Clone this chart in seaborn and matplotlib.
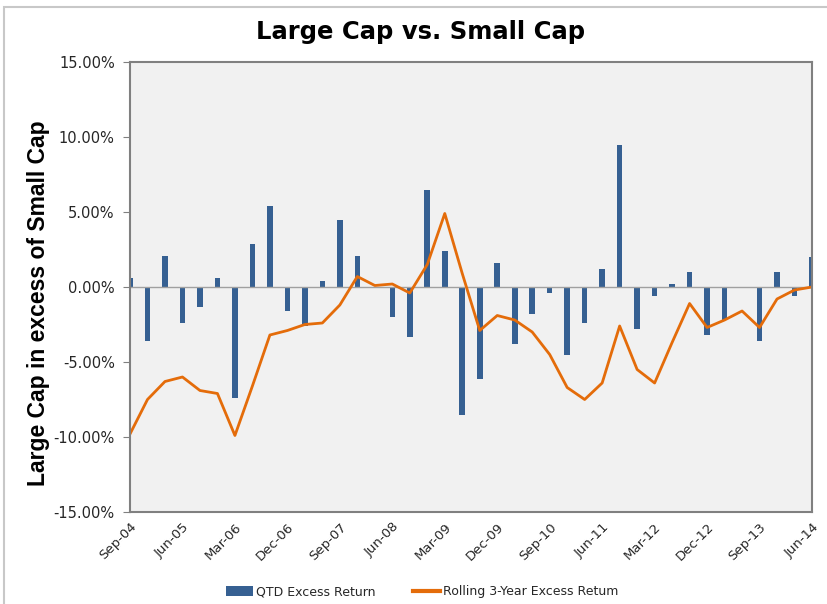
import numpy as np
import pandas as pd
import matplotlib
matplotlib.use('Agg')
import matplotlib.pyplot as plt
import seaborn as sns
from matplotlib.ticker import FuncFormatter
from matplotlib.patches import Rectangle, Patch
from matplotlib.lines import Line2D

# Trimestres Sep-04 .. Jun-14
meses = ['Sep', 'Dec', 'Mar', 'Jun']
fechas = []
anio = 4
for i in range(40):
    m = meses[i % 4]
    if m == 'Mar' and i > 0:
        anio += 1
    fechas.append(f'{m}-{anio:02d}')

# Exceso de rentabilidad trimestral (%)
qtd = [0.6, -3.6, 2.1, -2.4, -1.3, 0.6, -7.4, 2.9, 5.4, -1.6,
       -2.6, 0.4, 4.5, 2.1, 0.0, -2.0, -3.3, 6.5, 2.4, -8.5,
       -6.1, 1.6, -3.8, -1.8, -0.4, -4.5, -2.4, 1.2, 9.5, -2.8,
       -0.6, 0.2, 1.0, -3.2, -2.2, -0.02, -3.6, 1.0, -0.6, 2.0]

# Exceso de rentabilidad a 3 años (%)
rolling = [-9.8, -7.5, -6.3, -6.0, -6.9, -7.1, -9.9, -6.6, -3.2, -2.9,
           -2.5, -2.4, -1.2, 0.7, 0.1, 0.2, -0.4, 1.5, 4.9, 0.9,
           -2.9, -1.9, -2.2, -3.0, -4.5, -6.7, -7.5, -6.4, -2.6, -5.5,
           -6.4, -3.7, -1.1, -2.7, -2.2, -1.6, -2.7, -0.8, -0.2, 0.0]

df = pd.DataFrame({'fecha': fechas, 'idx': np.arange(40),
                   'qtd': np.array(qtd) / 100, 'rolling': np.array(rolling) / 100})

azul = '#366092'
naranja = '#E46C0A'

fig = plt.figure(figsize=(8.27, 6.04), dpi=100)
fig.patches.append(Rectangle((4 / 827, -0.1), 1.2, 1 - 7 / 604 + 0.1, transform=fig.transFigure,
                             fill=False, edgecolor='#c8c8c8', linewidth=1.5))
ax = fig.add_axes([130 / 827, 1 - 512 / 604, 682 / 827, 450 / 604])
ax.set_facecolor('#F1F1F1')

sns.barplot(x='fecha', y='qtd', data=df, order=fechas, color=azul, width=0.32,
            saturation=1, ax=ax)
sns.lineplot(x='idx', y='rolling', data=df, color=naranja, linewidth=2, ax=ax)

ax.axhline(0, color='#a0a0a0', linewidth=1, zorder=1)
ax.set_xlim(0, 39)
ax.set_ylim(-0.15, 0.15)
ax.set_yticks(np.arange(-0.15, 0.151, 0.05))
ax.yaxis.set_major_formatter(FuncFormatter(lambda v, p: f'{v * 100:.2f}%'))
ax.tick_params(axis='y', labelsize=10.5, colors='#808080', labelcolor='#262626', length=5, pad=6)
ax.set_xticks(range(0, 40, 3))
ax.set_xticklabels([fechas[i] for i in range(0, 40, 3)])
plt.setp(ax.get_xticklabels(), rotation=45, ha='right', rotation_mode='anchor', fontsize=9.5,
         color='#262626')
ax.tick_params(axis='x', length=0, pad=6)
for s in ax.spines.values():
    s.set_color('#808080')
    s.set_linewidth(1.5)

ax.set_xlabel('')
ax.set_ylabel('Large Cap in excess of Small Cap', fontsize=16.5, fontweight='bold',
              family='Liberation Sans')
ax.yaxis.set_label_coords(-0.118, 0.465)
fig.text(0.508, 1 - 32 / 604, 'Large Cap vs. Small Cap', ha='center', va='center',
         fontsize=17.5, fontweight='bold')

handles = [Patch(facecolor=azul, label='QTD Excess Return'),
           Line2D([0], [0], color=naranja, linewidth=3, label='Rolling 3-Year Excess Retum')]
fig.legend(handles=handles, loc='center', bbox_to_anchor=(0.51, 1 - 592 / 604), ncol=2,
           frameon=False, fontsize=9, handlelength=2.2, handleheight=0.9, columnspacing=3,
           handletextpad=0.2, labelcolor='#262626')

fig.savefig('out.png', dpi=100)
